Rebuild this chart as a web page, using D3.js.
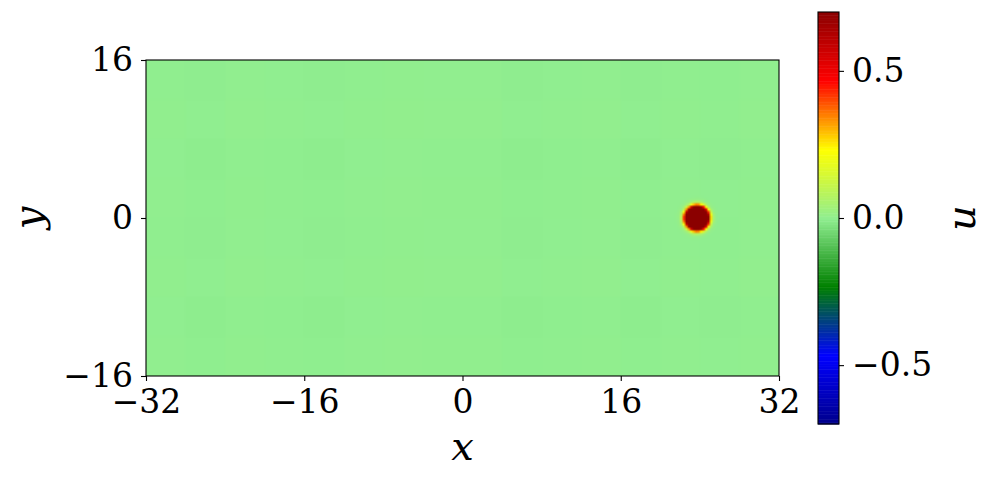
<!DOCTYPE html>
<html>
<head>
<meta charset="utf-8">
<title>u(x, y) field</title>
<script src="https://cdnjs.cloudflare.com/ajax/libs/d3/7.8.5/d3.min.js"></script>
<style>
body { margin: 0; background: white; }
svg { display: block; }
.tick text { font-family: "DejaVu Serif", serif; font-size: 33px; fill: black; }
.axis path, .axis line { stroke: black; stroke-width: 1.1px; }
.label { font-family: "DejaVu Serif", serif; font-style: italic; font-size: 40px; fill: black; }
</style>
</head>
<body>
<svg id="chart" width="997" height="483"></svg>
<script>
// axis / colour settings
var xTicks = [-32, -16, 0, 16, 32];
var yTicks = [-16, 0, 16];
var uTicks = [-0.5, 0.0, 0.5];
var xDomain = [-32, 32];
var yDomain = [-16, 16];
var uDomain = [-0.7, 0.7];
var cmapColors = ["#00008b", "#0000ff", "#008000", "#90ee90", "#ffff00", "#ff0000", "#8b0000"];

// the pulse: centre and radial profile
var pulseCenter = [23.7, 0];
var pulseR = [0, 0.8, 1.1, 1.2, 1.3, 1.45, 1.6, 1.8, 2.2];
var pulseU = [1.6, 1.1, 0.8, 0.68, 0.47, 0.23, 0.08, 0.015, 0];

// faint background ripples (per 4-unit column / row)
var bgColU = [0.001, -0.002, 0.002, 0.0, -0.002, 0.001, 0.003, 0.002,
              0.002, -0.002, 0.0, 0.002, -0.002, 0.001, -0.001, 0.002];
var bgRowU = [0.001, -0.001, 0.002, 0.0, 0.001, -0.001, 0.002, 0.0];

var svg = d3.select("#chart");
var plot = {left: 146, right: 779, top: 60, bottom: 376};
var cbar = {left: 818, right: 839, top: 12, bottom: 424};

var x = d3.scaleLinear().domain(xDomain).range([plot.left, plot.right]);
var y = d3.scaleLinear().domain(yDomain).range([plot.bottom, plot.top]);
var color = d3.scaleLinear()
  .domain(d3.range(cmapColors.length).map(i => uDomain[0] + i * (uDomain[1] - uDomain[0]) / (cmapColors.length - 1)))
  .range(cmapColors)
  .interpolate(d3.interpolateRgb)
  .clamp(true);
var profile = d3.scaleLinear().domain(pulseR).range(pulseU).clamp(true);
var colIdx = d3.scaleQuantize().domain(xDomain).range(d3.range(bgColU.length));
var rowIdx = d3.scaleQuantize().domain(yDomain).range(d3.range(bgRowU.length));

// field image
var nx = 256, ny = 128;
var canvas = document.createElement("canvas");
canvas.width = nx; canvas.height = ny;
var ctx = canvas.getContext("2d");
var img = ctx.createImageData(nx, ny);
var dx = (xDomain[1] - xDomain[0]) / nx, dy = (yDomain[1] - yDomain[0]) / ny;
for (var j = 0; j < ny; j++) {
  var yy = yDomain[1] - (j + 0.5) * dy;
  for (var i = 0; i < nx; i++) {
    var xx = xDomain[0] + (i + 0.5) * dx;
    var r = Math.hypot(xx - pulseCenter[0], yy - pulseCenter[1]);
    var u = profile(r) + bgColU[colIdx(xx)] + bgRowU[rowIdx(yy)];
    var c = d3.rgb(color(u));
    var k = 4 * (j * nx + i);
    img.data[k] = c.r; img.data[k + 1] = c.g; img.data[k + 2] = c.b; img.data[k + 3] = 255;
  }
}
ctx.putImageData(img, 0, 0);

svg.append("image")
  .attr("href", canvas.toDataURL())
  .attr("x", x(xDomain[0]))
  .attr("y", y(yDomain[1]))
  .attr("width", x(xDomain[1]) - x(xDomain[0]))
  .attr("height", y(yDomain[0]) - y(yDomain[1]))
  .attr("preserveAspectRatio", "none");

// frame
svg.append("rect")
  .attr("x", plot.left).attr("y", plot.top)
  .attr("width", plot.right - plot.left).attr("height", plot.bottom - plot.top)
  .attr("fill", "none").attr("stroke", "black").attr("stroke-width", 1.1);

var fmtInt = d3.format("d");

var gx = svg.append("g")
  .attr("class", "axis")
  .attr("transform", `translate(0, ${plot.bottom})`)
  .call(d3.axisBottom(x).tickValues(xTicks).tickFormat(fmtInt).tickSize(5).tickPadding(4));
gx.select(".domain").remove();
gx.selectAll(".tick text").attr("dy", "0.85em");

var gy = svg.append("g")
  .attr("class", "axis")
  .attr("transform", `translate(${plot.left}, 0)`)
  .call(d3.axisLeft(y).tickValues(yTicks).tickFormat(fmtInt).tickSize(5).tickPadding(8));
gy.select(".domain").remove();

svg.append("text").attr("class", "label")
  .attr("x", x(0)).attr("y", 460)
  .attr("text-anchor", "middle")
  .text("x");

svg.append("text").attr("class", "label")
  .attr("transform", `translate(42, ${y(0)}) rotate(-90)`)
  .attr("text-anchor", "middle")
  .text("y");

// colorbar
var cy = d3.scaleLinear().domain(uDomain).range([cbar.bottom, cbar.top]);
var levels = d3.range(256).map(i => uDomain[0] + (i + 0.5) * (uDomain[1] - uDomain[0]) / 256);
var step = (uDomain[1] - uDomain[0]) / 256;
svg.append("g").selectAll("rect")
  .data(levels)
  .enter().append("rect")
    .attr("x", cbar.left)
    .attr("width", cbar.right - cbar.left)
    .attr("y", d => cy(d + step / 2))
    .attr("height", d => cy(d - step / 2) - cy(d + step / 2) + 0.5)
    .attr("fill", d => color(d));

svg.append("rect")
  .attr("x", cbar.left).attr("y", cbar.top)
  .attr("width", cbar.right - cbar.left).attr("height", cbar.bottom - cbar.top)
  .attr("fill", "none").attr("stroke", "black").attr("stroke-width", 1.1);

var gc = svg.append("g")
  .attr("class", "axis")
  .attr("transform", `translate(${cbar.right}, 0)`)
  .call(d3.axisRight(cy).tickValues(uTicks).tickFormat(d3.format(".1f")).tickSize(5).tickPadding(8));
gc.select(".domain").remove();

svg.append("text").attr("class", "label")
  .attr("transform", `translate(975, ${cy(0)}) rotate(-90)`)
  .attr("text-anchor", "middle")
  .text("u");
</script>
</body>
</html>
